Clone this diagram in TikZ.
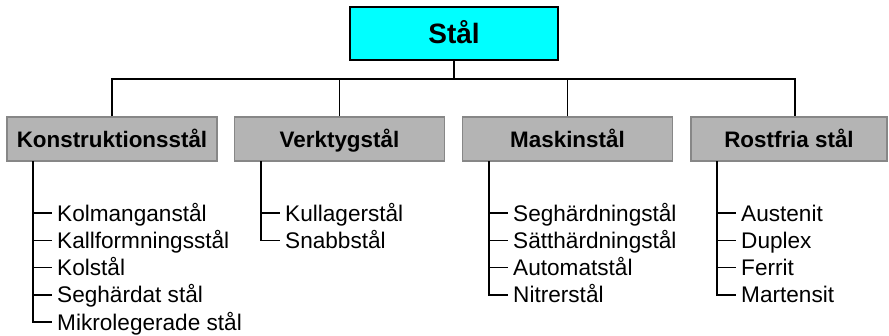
\documentclass[tikz,border=0pt]{standalone}
\usepackage{fontspec}
\setmainfont{Liberation Sans}
\definecolor{catfill}{RGB}{180,180,180}
\definecolor{catdraw}{RGB}{135,135,135}
\definecolor{topfill}{RGB}{0,255,255}
\begin{document}
\begin{tikzpicture}[x=1pt,y=-1pt,
  topbox/.style={draw=black,line width=1.5pt,fill=topfill,minimum width=208pt,minimum height=53pt,inner sep=0pt,text height=20pt,text depth=0pt,font=\fontsize{28}{32}\selectfont\bfseries},
  catbox/.style={draw=catdraw,line width=1.5pt,fill=catfill,minimum width=210pt,minimum height=44pt,inner sep=0pt,text height=16pt,text depth=0pt,font=\fontsize{22.4}{26}\selectfont\bfseries},
  item/.style={anchor=west,inner xsep=5pt,inner ysep=0pt,text height=16pt,text depth=0pt,font=\fontsize{22.6}{27}\selectfont},
  conn/.style={draw=black,line width=1.6pt}]
\useasboundingbox (0,0) rectangle (889,335);
\begin{scope}
\clip (0,0) rectangle (889,335);
\node[topbox] (top) at (454,33.5) {Stål};
\node[catbox] (k) at (112,139) {Konstruktionsstål};
\node[catbox] (v) at (339.5,139) {Verktygstål};
\node[catbox] (m) at (567.5,139) {Maskinstål};
\node[catbox,minimum width=196pt] (r) at (789,139) {Rostfria stål};
\end{scope}
\coordinate (bus) at (454,79);
\coordinate (rs) at (795,116.3);
\draw[conn] (top.south) -- (bus);
\draw[conn] (k.north) |- (bus) -| (rs);
\draw[conn] (v.north) -- (v.north |- bus);
\draw[conn] (m.north) -- (m.north |- bus);
% Konstruktionsstål items
\coordinate (kv) at (33,161);
\node[item] (k1) at (52,213) {Kolmanganstål};
\node[item] (k2) at (52,240.3) {Kallformningsstål};
\node[item] (k3) at (52,267.6) {Kolstål};
\node[item] (k4) at (52,294.9) {Seghärdat stål};
\node[item] (k5) at (52,322.2) {Mikrolegerade stål};
\draw[conn] (kv) |- (k5.west);
\foreach \n in {k1,k2,k3,k4} \draw[conn] (\n.west -| kv) -- (\n.west);
% Verktygstål items
\coordinate (vv) at (261,161);
\node[item] (v1) at (280,213) {Kullagerstål};
\node[item] (v2) at (280,240.3) {Snabbstål};
\draw[conn] (vv) |- (v2.west);
\draw[conn] (v1.west -| vv) -- (v1.west);
% Maskinstål items
\coordinate (mv) at (489,161);
\node[item] (m1) at (508,213) {Seghärdningstål};
\node[item] (m2) at (508,240.3) {Sätthärdningstål};
\node[item] (m3) at (508,267.6) {Automatstål};
\node[item] (m4) at (508,294.9) {Nitrerstål};
\draw[conn] (mv) |- (m4.west);
\foreach \n in {m1,m2,m3} \draw[conn] (\n.west -| mv) -- (\n.west);
% Rostfria stål items
\coordinate (rv) at (717,161);
\node[item] (r1) at (736,213) {Austenit};
\node[item] (r2) at (736,240.3) {Duplex};
\node[item] (r3) at (736,267.6) {Ferrit};
\node[item] (r4) at (736,294.9) {Martensit};
\draw[conn] (rv) |- (r4.west);
\foreach \n in {r1,r2,r3} \draw[conn] (\n.west -| rv) -- (\n.west);
\end{tikzpicture}
\end{document}
